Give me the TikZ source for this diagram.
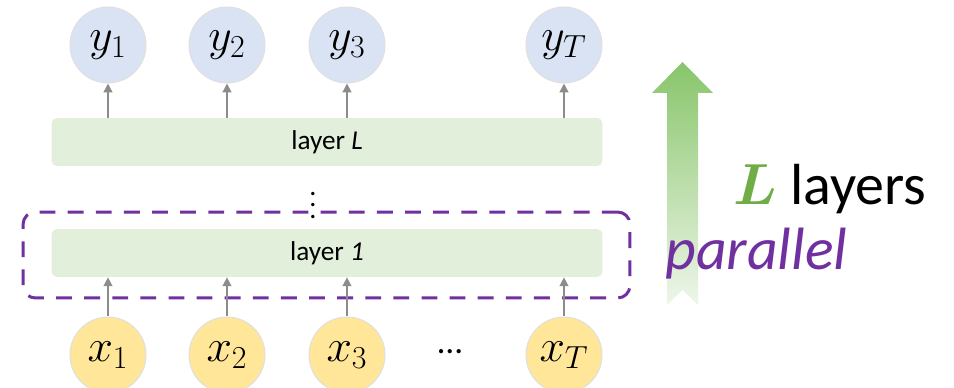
\documentclass[tikz,border=0pt]{standalone}
\usepackage{fix-cm}
\usepackage{amsmath}
\usepackage{amssymb}
\usepackage{bm}
\usepackage{graphicx}
\usepackage{fontspec}
\setmainfont{Carlito}
\usepackage{tikz}
\usetikzlibrary{arrows.meta}

\definecolor{outblue}{HTML}{DAE3F3}
\definecolor{inyellow}{HTML}{FFE699}
\definecolor{layergreen}{HTML}{E2EFDA}
\definecolor{parpurple}{HTML}{7030A0}
\definecolor{feedgray}{HTML}{8C8C8C}
\definecolor{Lgreen}{HTML}{70AD47}
\definecolor{stacktop}{HTML}{88C56A}
\definecolor{stackbot}{HTML}{EEF6EA}

\begin{document}
\begin{tikzpicture}[x=0.02cm, y=-0.02cm,
    token/.style={circle, minimum size=1.52cm, inner sep=0pt, draw=black!12, line width=0.6pt, font=\fontsize{26}{28}\selectfont},
    layerbox/.style={rectangle, rounded corners=3pt, fill=layergreen, minimum width=11.02cm, minimum height=0.96cm, font=\fontsize{15.5}{17}\selectfont},
    feed/.style={-{Triangle[length=5pt, width=5pt]}, feedgray, line width=0.8pt}]
    \clip (0,0) rectangle (954,388);

    % Output tokens
    \node[token, fill=outblue] (y1) at (108,45) {$y_1$};
    \node[token, fill=outblue] (y2) at (227,45) {$y_2$};
    \node[token, fill=outblue] (y3) at (347,45) {$y_3$};
    \node[token, fill=outblue] (yT) at (564,45) {$y_T$};

    % Input tokens
    \node[token, fill=inyellow] (x1) at (108,355) {$x_1$};
    \node[token, fill=inyellow] (x2) at (227,355) {$x_2$};
    \node[token, fill=inyellow] (x3) at (347,355) {$x_3$};
    \node[token, fill=inyellow] (xT) at (564,355) {$x_T$};
    \node[font=\fontsize{20}{22}\selectfont] (hdots) at (450,352) {\dots};

    % Parallel frame round the first layer
    \node[draw=parpurple, line width=1.7pt, dash pattern=on 9pt off 7pt, rounded corners=7pt,
        minimum width=12.14cm, minimum height=1.72cm] (parframe) at (326.5,255) {};

    % Layer stack
    \node[layerbox] (layerL) at (327,142) {layer \textit{L}};
    \node[layerbox] (layer1) at (327,253) {layer \textit{1}};
    \node[inner sep=0pt] (vdots) at (313,197) {\scalebox{1.6}{$\vdots$}};

    % Feed arrows
    \draw[feed] (x1) -- (x1 |- layer1.south);
    \draw[feed] (x2) -- (x2 |- layer1.south);
    \draw[feed] (x3) -- (x3 |- layer1.south);
    \draw[feed] (xT) -- (xT |- layer1.south);
    \draw[feed] (y1 |- layerL.north) -- (y1);
    \draw[feed] (y2 |- layerL.north) -- (y2);
    \draw[feed] (y3 |- layerL.north) -- (y3);
    \draw[feed] (yT |- layerL.north) -- (yT);

    % Big upward arrow
    \shade[top color=stacktop, bottom color=stackbot]
        (667,305) -- (667,93) -- (652,93) -- (682.5,62) -- (713,93) -- (698,93) -- (698,305) -- (682.5,290) -- cycle;

    % Labels
    \node[anchor=base west, inner sep=0pt, font=\fontsize{33}{36}\selectfont] (nlayers) at (733,205)
        {\textcolor{Lgreen}{$\bm{L}$} layers};
    \node[anchor=base west, inner sep=0pt, text=parpurple, font=\fontsize{34}{36}\selectfont\itshape] (parlabel) at (665,270) {parallel};
\end{tikzpicture}
\end{document}
